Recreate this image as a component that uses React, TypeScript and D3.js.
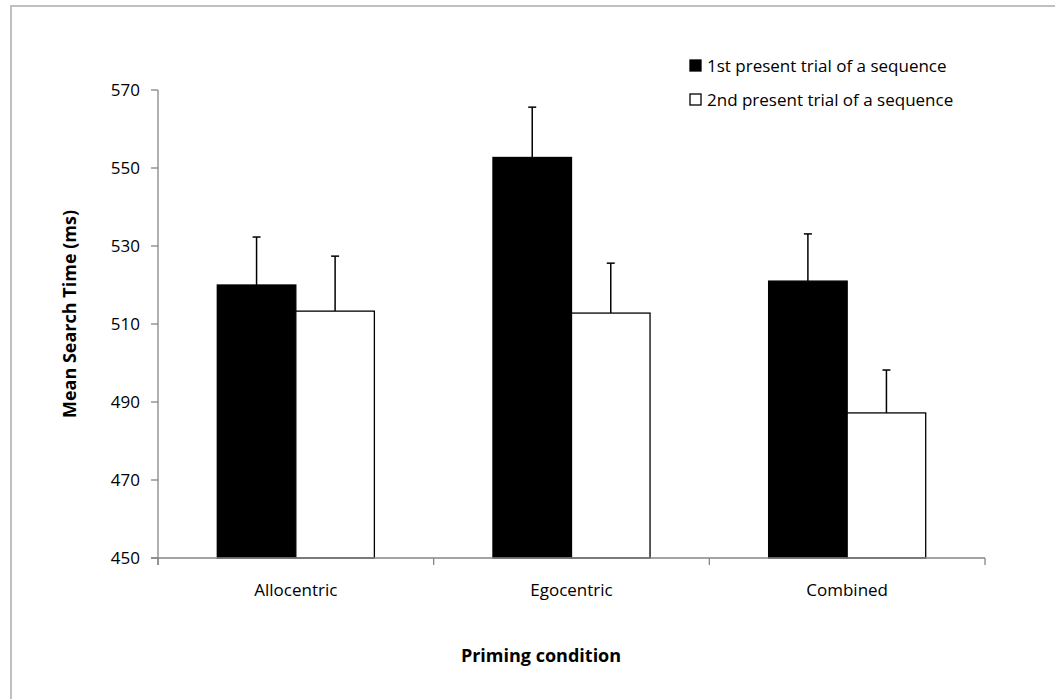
import * as d3 from "d3";

const categories = ["Allocentric", "Egocentric", "Combined"];
const seriesNames = ["1st present trial of a sequence", "2nd present trial of a sequence"];
const firstTrial = [520, 552.7, 521];
const secondTrial = [513.3, 512.8, 487.2];
const firstErr = [12.3, 12.9, 12.1];
const secondErr = [14.1, 12.8, 11.0];
const yTicks = [450, 470, 490, 510, 530, 550, 570];

const width = 1055;
const height = 699;
const margin = { left: 158, right: 70, top: 90, bottom: 141 };
const fills = ["#000000", "#ffffff"];
const font = "'Open Sans', sans-serif";

const App = () => {
  const innerW = width - margin.left - margin.right;
  const innerH = height - margin.top - margin.bottom;

  const x = d3.scaleBand().domain(categories).range([0, innerW]).paddingInner(0).paddingOuter(0);
  const x1 = d3.scaleBand().domain(seriesNames).range([0, x.bandwidth()]).paddingOuter(0.755);
  const y = d3.scaleLinear().domain([450, 570]).range([innerH, 0]);

  const series = [firstTrial, secondTrial];
  const errs = [firstErr, secondErr];

  return (
    <svg
      width={width}
      height={height}
      style={{ position: "absolute", left: 0, top: 0, background: "#fff" }}
    >
      {/* outer frame */}
      <rect x={11} y={6} width={width} height={height} fill="none" stroke="#c0c0c0" strokeWidth={2} />

      <g transform={`translate(${margin.left},${margin.top})`}>
        {/* bars */}
        {categories.map((c, i) => (
          <g key={c} transform={`translate(${x(c)},0)`}>
            {seriesNames.map((s, j) => {
              const v = series[j][i];
              const bx = x1(s)!;
              const cx = bx + x1.bandwidth() / 2;
              const top = y(v + errs[j][i]);
              return (
                <g key={s}>
                  <line x1={cx} x2={cx} y1={y(v)} y2={top} stroke="#000" strokeWidth={1.5} />
                  <line x1={cx - 4} x2={cx + 4} y1={top} y2={top} stroke="#000" strokeWidth={1.5} />
                  <rect
                    x={bx}
                    y={y(v)}
                    width={x1.bandwidth()}
                    height={innerH - y(v)}
                    fill={fills[j]}
                    stroke="#000"
                    strokeWidth={1.3}
                  />
                </g>
              );
            })}
          </g>
        ))}

        {/* y axis */}
        <line x1={0} x2={0} y1={0} y2={innerH + 7} stroke="#868686" strokeWidth={1.3} />
        {yTicks.map((t) => (
          <g key={t} transform={`translate(0,${y(t)})`}>
            <line x1={-7} x2={0} stroke="#868686" strokeWidth={1.3} />
            <text x={-18} dy="0.35em" textAnchor="end" fontSize={17} fontFamily={font} fill="#000">
              {t}
            </text>
          </g>
        ))}

        {/* x axis */}
        <line x1={-7} x2={innerW} y1={innerH} y2={innerH} stroke="#868686" strokeWidth={1.3} />
        {[...categories.map((c) => x(c)!), innerW].map((p, i) => (
          <line key={i} x1={p} x2={p} y1={innerH} y2={innerH + 7} stroke="#868686" strokeWidth={1.3} />
        ))}
        {categories.map((c) => (
          <text
            key={c}
            x={x(c)! + x.bandwidth() / 2}
            y={innerH + 38}
            textAnchor="middle"
            fontSize={17}
            fontFamily={font}
            fill="#000"
          >
            {c}
          </text>
        ))}
      </g>

      {/* axis titles */}
      <text
        transform={`translate(76,314) rotate(-90)`}
        textAnchor="middle"
        fontSize={18}
        fontWeight="bold"
        fontFamily={font}
        fill="#000"
      >
        Mean Search Time (ms)
      </text>
      <text
        x={541}
        y={662}
        textAnchor="middle"
        fontSize={18}
        fontWeight="bold"
        fontFamily={font}
        fill="#000"
      >
        Priming condition
      </text>

      {/* legend */}
      {seriesNames.map((s, j) => (
        <g key={s} transform={`translate(690,${60 + j * 34})`}>
          <rect x={0} y={0} width={11} height={11} fill={fills[j]} stroke="#000" strokeWidth={1.3} />
          <text x={17} y={11.5} fontSize={17} fontFamily={font} fill="#000">
            {s}
          </text>
        </g>
      ))}
    </svg>
  );
};

export default App;
